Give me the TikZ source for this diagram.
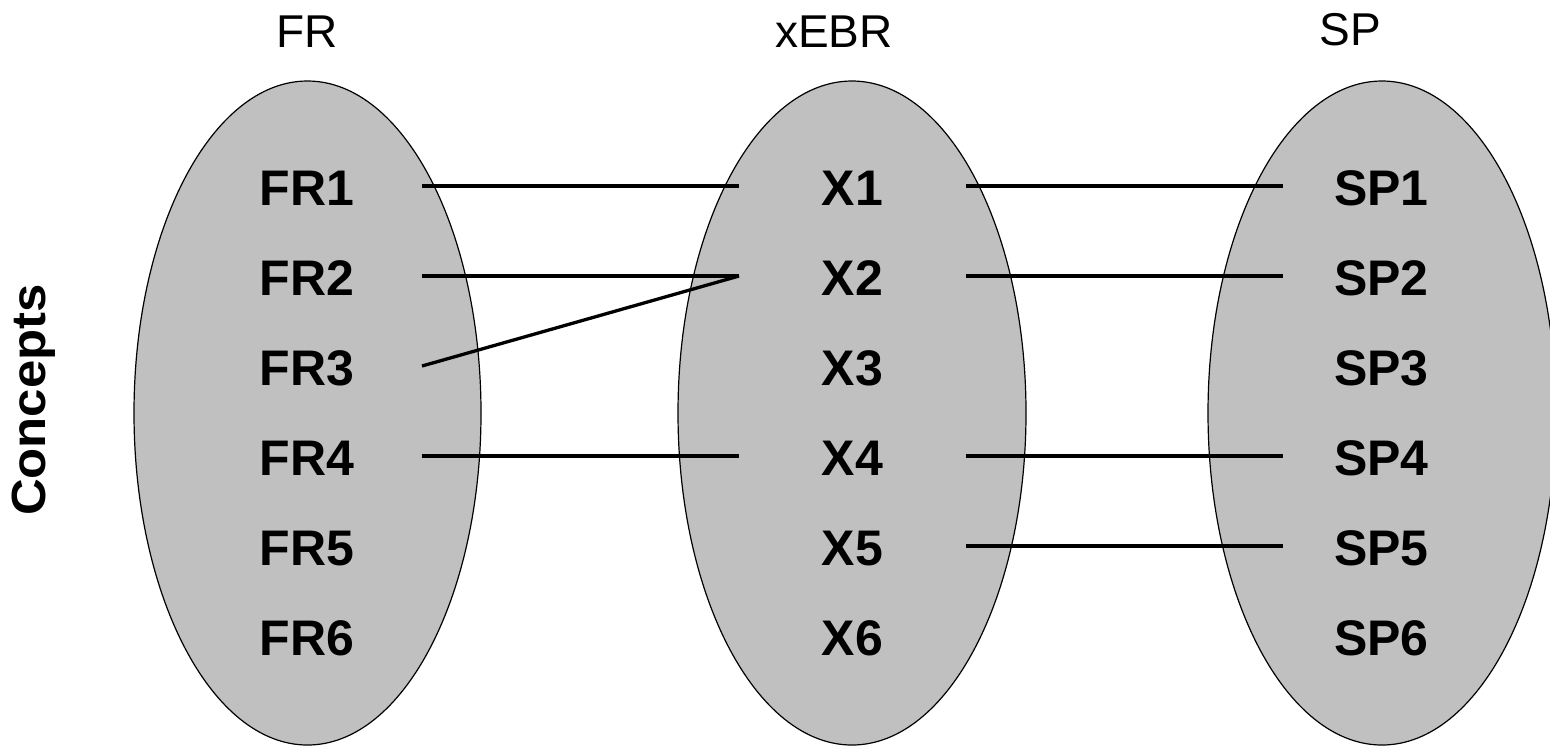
\documentclass[tikz,border=0pt]{standalone}
\usepackage{fontspec}
\setmainfont{Liberation Sans}
\definecolor{ellgray}{RGB}{192,192,192}
\begin{document}
\begin{tikzpicture}[x=0.5pt,y=-0.5pt,
  setshape/.style={fill=ellgray,draw=black,line width=0.6pt},
  title/.style={font=\fontsize{23}{27}\selectfont,inner sep=0pt,anchor=base},
  lbl/.style={font=\bfseries\fontsize{25}{30}\selectfont,inner sep=0pt,outer sep=0pt,
    text height=19pt,text depth=0pt,minimum height=0pt,align=center},
  frlbl/.style={lbl,minimum width=115pt},
  xlbl/.style={lbl,minimum width=113.5pt},
  splbl/.style={lbl,minimum width=98.5pt},
  link/.style={line width=1.65pt,black}]
\useasboundingbox (0,0) rectangle (1550,746);
\clip (0,0) rectangle (1550,746);
% sets
\draw[setshape] (307.5,413) ellipse [x radius=173.5, y radius=332];
\draw[setshape] (852,413) ellipse [x radius=174, y radius=332];
\draw[setshape] (1382,413) ellipse [x radius=174, y radius=332];
% titles
\node[title] (tFR) at (307,47) {FR};
\node[title] (tX) at (834,47) {xEBR};
\node[title] (tSP) at (1350,45) {SP};
% side label
\node[font=\bfseries\fontsize{24}{28}\selectfont,rotate=90,inner sep=0pt,xscale=1.06] (concepts) at (34,400) {Concepts};
% labels
\foreach \i/\y in {1/186,2/276,3/366,4/456,5/546,6/636}{
  \node[frlbl] (FR\i) at (307,\y) {FR\i};
  \node[xlbl] (X\i) at (852.5,\y) {X\i};
  \node[splbl] (SP\i) at (1381.5,\y) {SP\i};
}
% links
\draw[link] (FR1.east) -- (X1.west);
\draw[link] (FR2.east) -- (X2.west);
\draw[link] (FR3.east) -- (X2.west);
\draw[link] (FR4.east) -- (X4.west);
\draw[link] (X1.east) -- (SP1.west);
\draw[link] (X2.east) -- (SP2.west);
\draw[link] (X4.east) -- (SP4.west);
\draw[link] (X5.east) -- (SP5.west);
\end{tikzpicture}
\end{document}
